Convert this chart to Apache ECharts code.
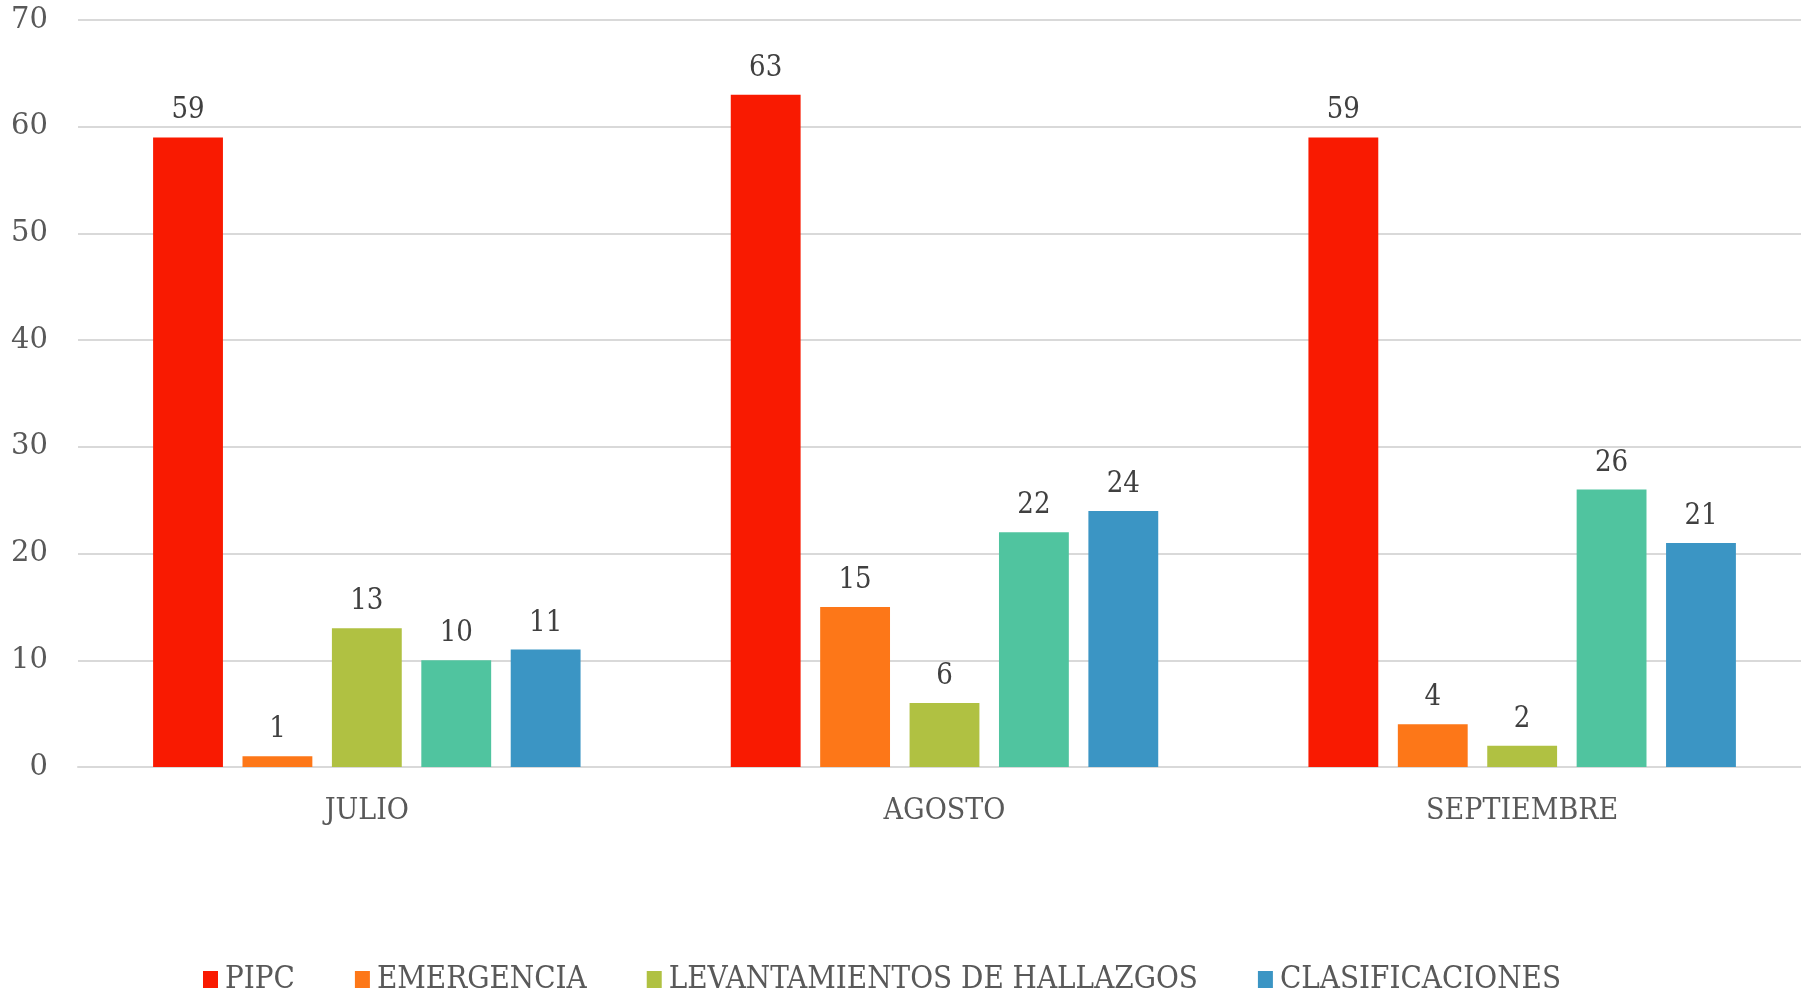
<!DOCTYPE html>
<html><head><meta charset="utf-8">
<script src="https://cdn.jsdelivr.net/npm/echarts@6/dist/echarts.min.js"></script>
<style>html,body{margin:0;padding:0;background:#fff}#c{width:1801px;height:994px}</style>
</head><body><div id="c"></div>
<script>
const categories = ['JULIO', 'AGOSTO', 'SEPTIEMBRE'];
const seriesNames = ['PIPC', 'EMERGENCIA', 'LEVANTAMIENTOS DE HALLAZGOS', '', 'CLASIFICACIONES'];
const legendNames = ['PIPC', 'EMERGENCIA', 'LEVANTAMIENTOS DE HALLAZGOS', 'CLASIFICACIONES'];
const pipc = [59, 63, 59];
const emergencia = [1, 15, 4];
const levantamientos = [13, 6, 2];
const teal = [10, 22, 26];
const clasificaciones = [11, 24, 21];
const colors = ['#F91A01', '#FD7718', '#B0C142', '#50C49F', '#3B95C4'];
const yTicks = [0, 10, 20, 30, 40, 50, 60, 70];

const values = [pipc, emergencia, levantamientos, teal, clasificaciones];
const serifC = '"DejaVu Serif Condensed", "DejaVu Serif", serif';
const chart = echarts.init(document.getElementById('c'), null, {renderer: 'canvas'});
chart.setOption({
  animation: false,
  color: colors,
  grid: {left: 78, width: 1733, top: 20, bottom: 227, containLabel: false, outerBoundsMode: 'none'},
  legend: {
    data: legendNames,
    bottom: -6,
    left: 198,
    itemWidth: 15, itemHeight: 17,
    itemGap: 60,
    icon: 'rect',
    textStyle: {fontFamily: serifC, fontSize: 31, color: '#595959', padding: [0,0,0,2]}
  },
  xAxis: {
    type: 'category', data: categories,
    axisLine: {lineStyle: {color: '#d9d9d9', width: 2}},
    axisTick: {show: false},
    axisLabel: {fontFamily: serifC, fontSize: 30, color: '#595959', margin: 29}
  },
  yAxis: {
    type: 'value', min: 0, max: 70, interval: 10,
    axisLine: {show: false}, axisTick: {show: false},
    splitLine: {lineStyle: {color: '#d9d9d9', width: 2}},
    axisLabel: {fontFamily: '"DejaVu Serif", serif', fontSize: 29, color: '#595959', margin: 30,
      formatter: v => yTicks.includes(v) ? String(v) : ''}
  },
  series: values.map((d, i) => ({
    name: seriesNames[i] || 'TEAL',
    type: 'bar',
    data: d,
    barGap: '28%',
    barCategoryGap: '26%',
    itemStyle: {color: colors[i]},
    label: {show: true, position: 'top', distance: 12, fontFamily: serifC, fontSize: 29, color: '#404040'}
  }))
});
</script></body></html>
